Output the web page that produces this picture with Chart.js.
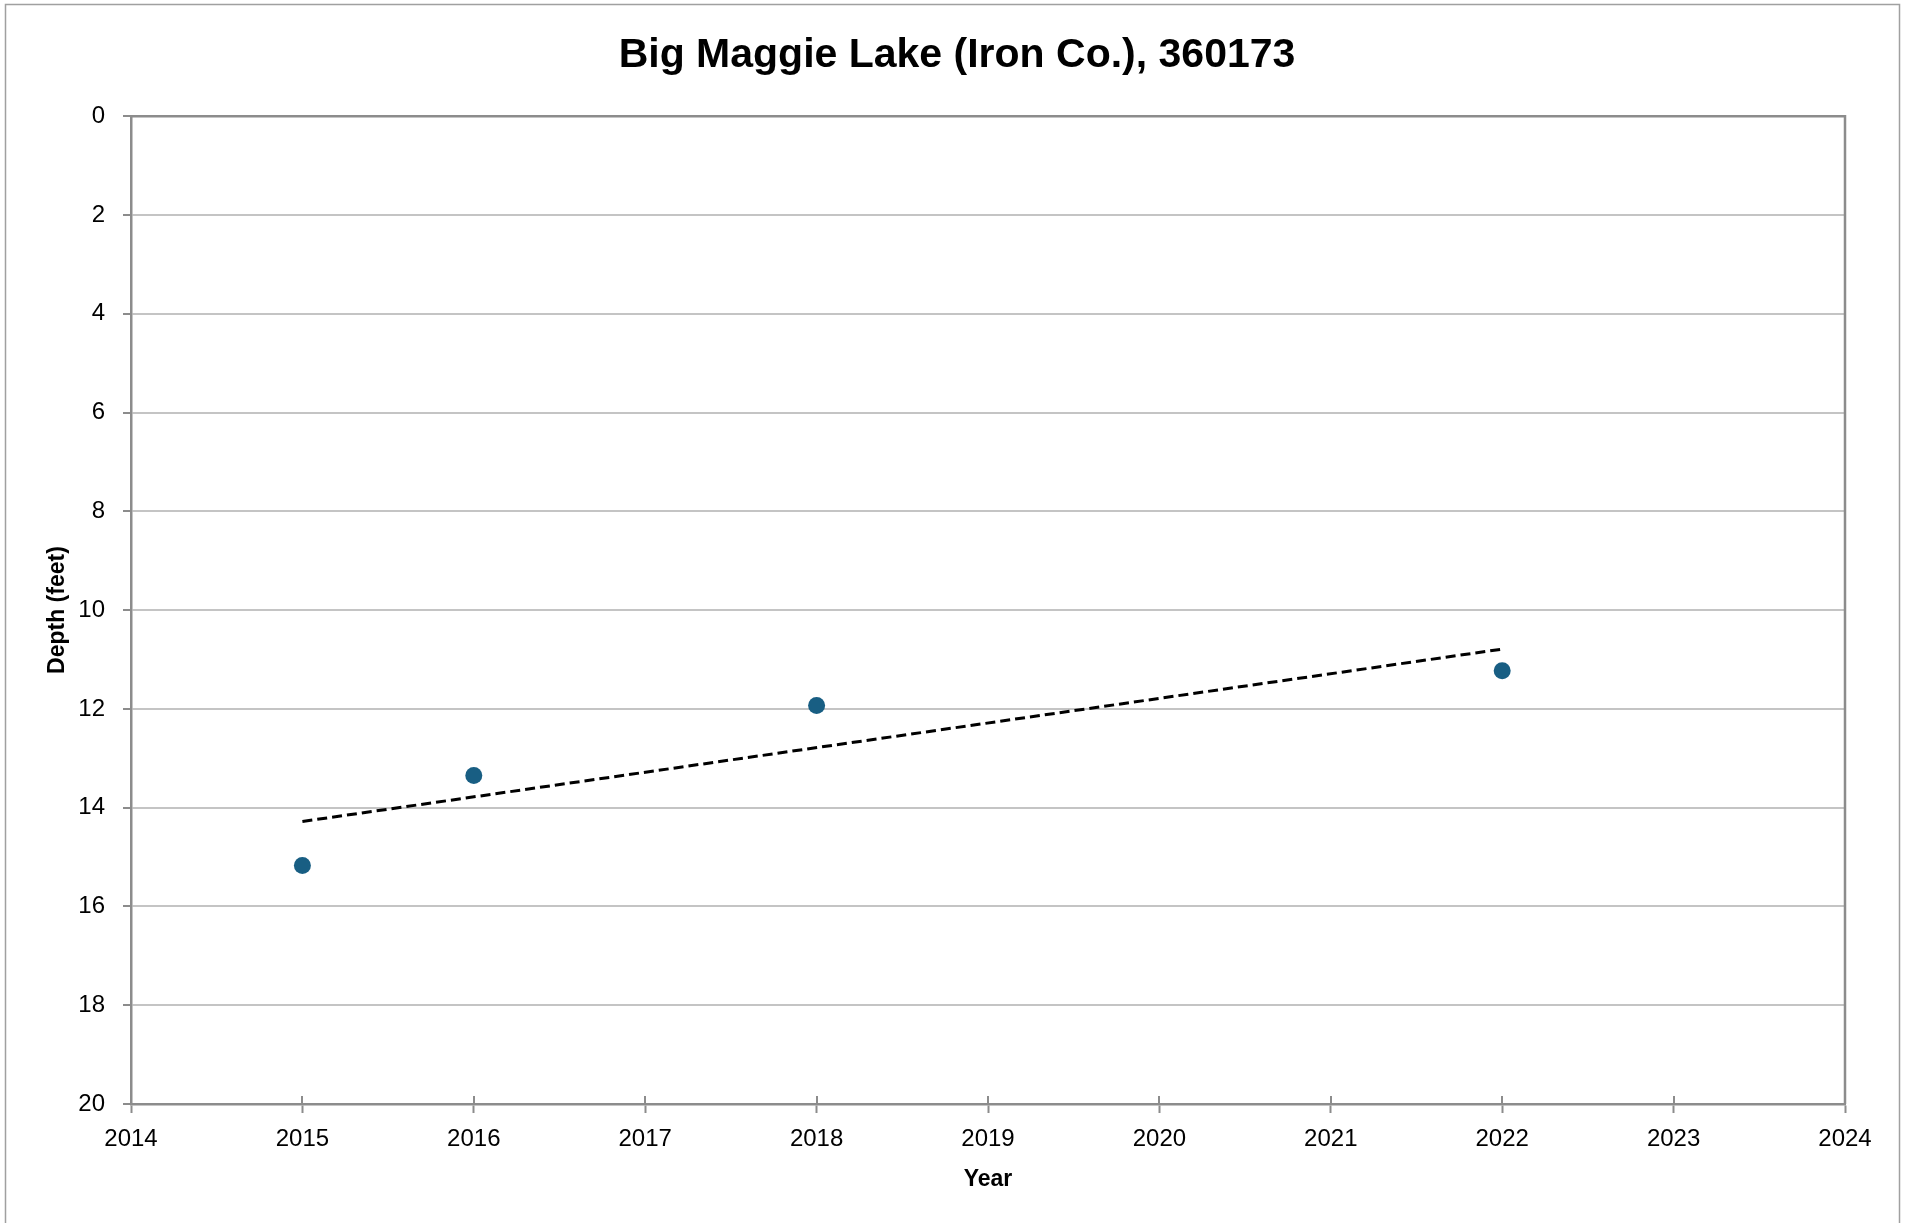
<!DOCTYPE html>
<html>
<head>
<meta charset="utf-8">
<title>Big Maggie Lake (Iron Co.), 360173</title>
<script src="https://cdn.jsdelivr.net/npm/chart.js@4.4.1/dist/chart.umd.min.js"></script>
<style>
  body { margin: 0; background: #fff; }
  canvas { display: block; }
</style>
</head>
<body>
<canvas id="depthChart" width="1914" height="1223"></canvas>
<script>
// Secchi depth readings (feet)
const years = [2015, 2016, 2018, 2022];
const depths = [15.17, 13.35, 11.93, 11.23];

// linear trendline end points, as drawn
const trendYears = [2015, 2022];
const trendDepths = [14.28, 10.79];

const yearTicks = [2014, 2015, 2016, 2017, 2018, 2019, 2020, 2021, 2022, 2023, 2024];
const depthTicks = [0, 2, 4, 6, 8, 10, 12, 14, 16, 18, 20];

const FONT = "'Liberation Sans', Arial, sans-serif";
const AXIS_GREY = '#8c8c8c';

// outer border, plot frame and the inner half of the x tick marks
const framePlugin = {
    id: 'frame',
    beforeDraw(chart) {
        const ctx = chart.ctx;
        ctx.save();
        ctx.fillStyle = '#fff';
        ctx.fillRect(0, 0, chart.width, chart.height);
        ctx.strokeStyle = '#a0a0a0';
        ctx.lineWidth = 1.5;
        ctx.strokeRect(5.5, 4.5, 1894, 1260);
        ctx.restore();
    },
    beforeDatasetsDraw(chart) {
        const ctx = chart.ctx;
        const a = chart.chartArea;
        const xs = chart.scales.x;
        ctx.save();
        ctx.strokeStyle = AXIS_GREY;
        ctx.lineWidth = 2.5;
        ctx.beginPath();
        ctx.moveTo(a.left, a.top);
        ctx.lineTo(a.right, a.top);
        ctx.lineTo(a.right, a.bottom);
        ctx.stroke();
        ctx.lineWidth = 2;
        yearTicks.forEach(v => {
            const px = Math.round(xs.getPixelForValue(v));
            ctx.beginPath();
            ctx.moveTo(px, a.bottom - 8);
            ctx.lineTo(px, a.bottom);
            ctx.stroke();
        });
        ctx.restore();
    }
};

const ctx = document.getElementById('depthChart').getContext('2d');
const chart = new Chart(ctx, {
    type: 'scatter',
    data: {
        datasets: [
            {
                label: 'Depth',
                data: years.map((y, i) => ({ x: y, y: depths[i] })),
                backgroundColor: '#185e83',
                borderWidth: 0,
                pointRadius: 8.5,
                pointHoverRadius: 8.5,
                order: 1
            },
            {
                label: 'Trend',
                data: trendYears.map((y, i) => ({ x: y, y: trendDepths[i] })),
                showLine: true,
                borderColor: '#000',
                borderWidth: 3,
                borderDash: [10, 5],
                pointRadius: 0,
                order: 2
            }
        ]
    },
    options: {
        responsive: false,
        devicePixelRatio: 1,
        animation: false,
        layout: { padding: 0 },
        plugins: {
            legend: { display: false },
            tooltip: { enabled: false },
            title: {
                display: true,
                text: 'Big Maggie Lake (Iron Co.), 360173',
                color: '#000',
                font: { family: FONT, size: 41, weight: 'bold', lineHeight: 1.2 },
                padding: { top: 31, bottom: 36 }
            }
        },
        scales: {
            x: {
                type: 'linear',
                position: 'bottom',
                min: 2014,
                max: 2024,
                afterBuildTicks: s => { s.ticks = yearTicks.map(v => ({ value: v })); },
                afterFit: s => { s.height = 119; },
                grid: {
                    drawOnChartArea: false,
                    drawTicks: true,
                    tickLength: 9,
                    tickColor: AXIS_GREY,
                    tickWidth: 2
                },
                border: { display: true, color: AXIS_GREY, width: 2.5 },
                ticks: {
                    color: '#000',
                    font: { family: FONT, size: 24 },
                    padding: 12,
                    maxRotation: 0,
                    callback: v => String(v)
                },
                title: {
                    display: true,
                    text: 'Year',
                    color: '#000',
                    font: { family: FONT, size: 23, weight: 'bold', lineHeight: 1.2 },
                    padding: { top: 0, bottom: 30 }
                }
            },
            y: {
                type: 'linear',
                position: 'left',
                reverse: true,
                min: 0,
                max: 20,
                afterBuildTicks: s => { s.ticks = depthTicks.map(v => ({ value: v })); },
                afterFit: s => { s.width = 131; },
                grid: {
                    color: '#c4c4c4',
                    lineWidth: 2,
                    drawTicks: true,
                    tickLength: 8,
                    tickColor: AXIS_GREY,
                    tickWidth: 2
                },
                border: { display: true, color: AXIS_GREY, width: 2.5 },
                ticks: {
                    color: '#000',
                    font: { family: FONT, size: 24 },
                    padding: 18,
                    callback: v => String(v)
                },
                title: {
                    display: true,
                    text: 'Depth (feet)',
                    color: '#000',
                    font: { family: FONT, size: 23, weight: 'bold', lineHeight: 1.2 },
                    padding: { top: 44, bottom: 0 }
                }
            },
            // empty box on the right so the plot ends where the original does
            yRight: {
                type: 'linear',
                position: 'right',
                display: true,
                afterFit: s => { s.width = 69; },
                grid: { display: false, drawTicks: false },
                border: { display: false },
                ticks: { display: false }
            }
        }
    },
    plugins: [framePlugin]
});
</script>
</body>
</html>
